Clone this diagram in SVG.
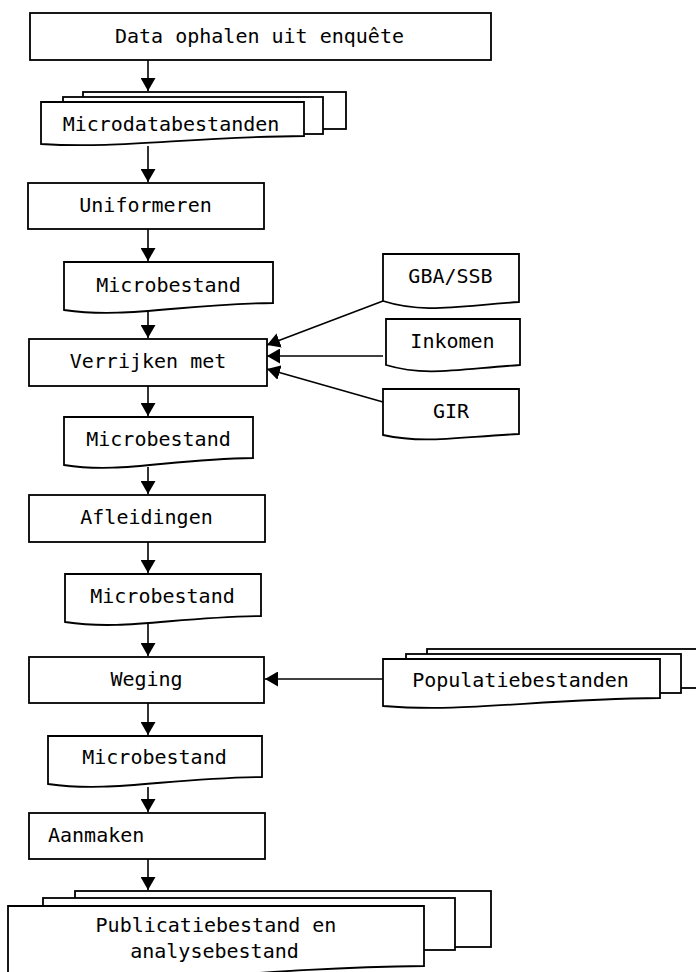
<svg xmlns="http://www.w3.org/2000/svg" width="696" height="972" viewBox="0 0 696 972">
<style>
  .s { fill: #fff; stroke: #000; stroke-width: 1.8; }
  .t { font-family: "DejaVu Sans Mono", "Liberation Mono", monospace; font-size: 20px; fill: #000; text-anchor: middle; }
  .c { fill: none; stroke: #000; stroke-width: 1.6; marker-end: url(#ah); }
</style>
<defs>
  <marker id="ah" markerUnits="userSpaceOnUse" markerWidth="14" markerHeight="15" refX="13" refY="7.5" orient="auto">
    <path d="M0,0 L13,7.5 L0,15 z" fill="#000"/>
  </marker>
</defs>
<rect width="696" height="972" fill="#fff"/>

<g id="connectors">
  <line class="c" x1="148" y1="60" x2="148" y2="91"/>
  <line class="c" x1="148" y1="146" x2="148" y2="182"/>
  <line class="c" x1="148" y1="229" x2="148" y2="261"/>
  <line class="c" x1="148" y1="312" x2="148" y2="338"/>
  <line class="c" x1="148" y1="386" x2="148" y2="416"/>
  <line class="c" x1="148" y1="467" x2="148" y2="494"/>
  <line class="c" x1="148" y1="542" x2="148" y2="573"/>
  <line class="c" x1="148" y1="624" x2="148" y2="656"/>
  <line class="c" x1="148" y1="703" x2="148" y2="735"/>
  <line class="c" x1="148" y1="787" x2="148" y2="812"/>
  <line class="c" x1="148" y1="859" x2="148" y2="890"/>
  <line class="c" x1="383" y1="301" x2="267" y2="345"/>
  <line class="c" x1="383" y1="356" x2="267" y2="356"/>
  <line class="c" x1="383" y1="402" x2="267" y2="369"/>
  <line class="c" x1="383" y1="679" x2="265" y2="679"/>
</g>

<g id="n-data-ophalen">
  <rect class="s" x="30" y="13" width="461" height="47"/>
  <text class="t" x="259.5" y="43">Data ophalen uit enquête</text>
</g>

<g id="n-microdatabestanden">
  <rect class="s" x="83" y="92" width="263" height="37"/>
  <rect class="s" x="63" y="97" width="260" height="37"/>
  <path class="s" d="M41,102 H304 V136 C186,137 120,149 41,144 Z"/>
  <text class="t" x="171" y="131">Microdatabestanden</text>
</g>

<g id="n-uniformeren">
  <rect class="s" x="28" y="183" width="236" height="46"/>
  <text class="t" x="145.5" y="212">Uniformeren</text>
</g>

<g id="n-microbestand-1">
  <path class="s" d="M64,262 H273 V303 C179,304 127,319 64,310 Z"/>
  <text class="t" x="168.5" y="292">Microbestand</text>
</g>

<g id="n-verrijken">
  <rect class="s" x="29" y="339" width="238" height="47"/>
  <text class="t" x="148" y="368">Verrijken met</text>
</g>

<g id="n-gba-ssb">
  <path class="s" d="M383,254 H519 V302 C458,306 424,314 383,301 Z"/>
  <text class="t" x="450.5" y="283">GBA/SSB</text>
</g>

<g id="n-inkomen">
  <path class="s" d="M386,319 H520 V365 C460,369 426,377 386,365 Z"/>
  <text class="t" x="452.5" y="348">Inkomen</text>
</g>

<g id="n-gir">
  <path class="s" d="M383,389 H519 V434 C458,437 424,444 383,435 Z"/>
  <text class="t" x="451" y="418">GIR</text>
</g>

<g id="n-microbestand-2">
  <path class="s" d="M64,417 H253 V458 C168,459 121,474 64,465 Z"/>
  <text class="t" x="158.5" y="446">Microbestand</text>
</g>

<g id="n-afleidingen">
  <rect class="s" x="29" y="495" width="236" height="47"/>
  <text class="t" x="146.5" y="524">Afleidingen</text>
</g>

<g id="n-microbestand-3">
  <path class="s" d="M65,574 H261 V616 C173,617 124,631 65,622 Z"/>
  <text class="t" x="162.5" y="603">Microbestand</text>
</g>

<g id="n-weging">
  <rect class="s" x="29" y="657" width="235" height="46"/>
  <text class="t" x="146.5" y="686">Weging</text>
</g>

<g id="n-populatiebestanden">
  <rect class="s" x="427" y="649" width="280" height="39"/>
  <rect class="s" x="406" y="654" width="275" height="39"/>
  <path class="s" d="M383,659 H660 V698 C535,699 466,713 383,706 Z"/>
  <text class="t" x="520.5" y="687">Populatiebestanden</text>
</g>

<g id="n-microbestand-4">
  <path class="s" d="M48,736 H262 V777 C166,778 112,793 48,784 Z"/>
  <text class="t" x="154.5" y="764">Microbestand</text>
</g>

<g id="n-aanmaken">
  <rect class="s" x="29" y="813" width="236" height="46"/>
  <text class="t" x="48" y="842" style="text-anchor:start">Aanmaken</text>
</g>

<g id="n-publicatiebestand">
  <rect class="s" x="75" y="891" width="416" height="56"/>
  <rect class="s" x="43" y="898" width="412" height="52"/>
  <path class="s" d="M8,906 H424 V966 C237,968 133,990 8,982 Z"/>
  <text class="t" x="216" y="932">Publicatiebestand en</text>
  <text class="t" x="214.5" y="958">analysebestand</text>
</g>
</svg>
